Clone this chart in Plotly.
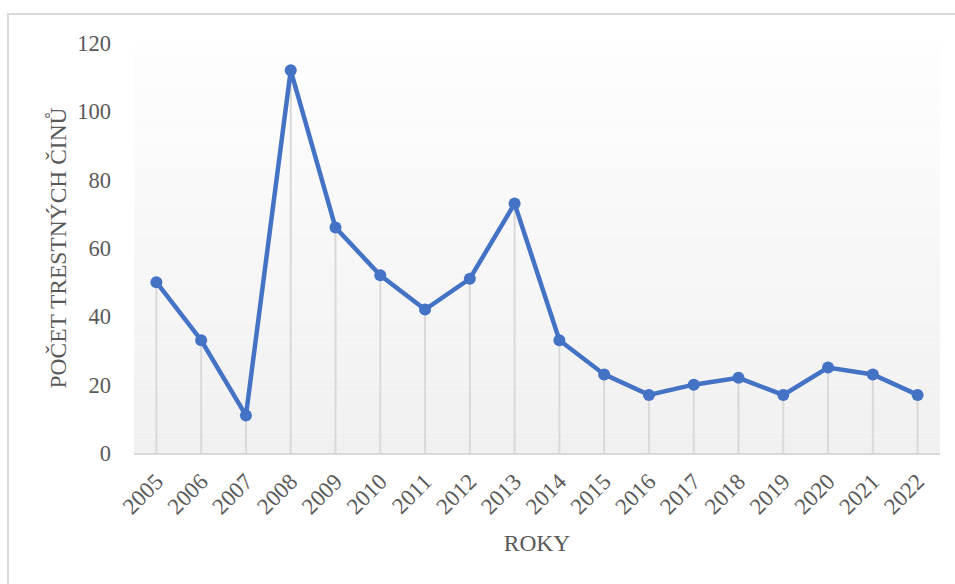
import plotly.graph_objects as go

years = [str(y) for y in range(2005, 2023)]
values = [50, 33, 11, 112, 66, 52, 42, 51, 73, 33, 23, 17, 20, 22, 17, 25, 23, 17]
y_ticks = [0, 20, 40, 60, 80, 100, 120]

W, H = 955, 584
ML, MR, MT, MB = 134, 15, 43, 131
PW, PH = W - ML - MR, H - MT - MB

font_family = "Liberation Serif, Times New Roman, serif"
text_color = "#595959"

fig = go.Figure()

fig.add_trace(go.Scatter(
    x=years, y=values,
    mode="lines+markers",
    line=dict(color="#4472C4", width=4.5),
    marker=dict(color="#4472C4", size=12),
    error_y=dict(type="data", symmetric=False, array=[0] * len(values),
                 arrayminus=values, color="#d9d9d9", thickness=2, width=0),
    showlegend=False,
    hoverinfo="x+y",
))

# gradient background of plot area
shapes = []
n = 60
for i in range(n):
    t = (i + 0.5) / n
    c0, c1 = 254, 240
    c = round(c0 + (c1 - c0) * t)
    shapes.append(dict(type="rect", xref="paper", yref="paper",
                       x0=0, x1=1, y0=1 - (i + 1) / n, y1=1 - i / n,
                       fillcolor=f"rgb({c},{c},{c})", line=dict(width=0),
                       layer="below"))

# outer chart border
shapes.append(dict(type="rect", xref="paper", yref="paper",
                   x0=(8 - ML) / PW, x1=(W + 10 - ML) / PW,
                   y0=-(H + 10 - MT - PH) / PH, y1=(H - MB - 14) / PH,
                   line=dict(color="#d9d9d9", width=2), fillcolor="rgba(0,0,0,0)",
                   layer="below"))

fig.update_layout(
    width=W, height=H,
    margin=dict(l=ML, r=MR, t=MT, b=MB, autoexpand=False),
    paper_bgcolor="white",
    plot_bgcolor="rgba(0,0,0,0)",
    font=dict(family=font_family, color=text_color, size=22),
    shapes=shapes,
    xaxis=dict(
        type="category",
        range=[-0.5, len(years) - 0.5],
        tickangle=-45,
        showgrid=False,
        showline=True, linecolor="#d9d9d9", linewidth=2,
        ticks="",
        ticklabelstandoff=4,
        tickfont=dict(size=23, color=text_color),
        title=dict(text="ROKY", font=dict(size=23.5, color=text_color), standoff=16),
        zeroline=False,
    ),
    yaxis=dict(
        range=[0, 120],
        tickvals=y_ticks,
        showgrid=False,
        showline=False,
        zeroline=False,
        ticks="",
        ticklabelstandoff=22,
        tickfont=dict(size=22.5, color=text_color),
        title=dict(text="POČET TRESTNÝCH ČINŮ", font=dict(size=23.5, color=text_color), standoff=4),
    ),
)

fig.write_html("out.html", config={"displayModeBar": False},
               post_script="document.body.style.margin='0';")
